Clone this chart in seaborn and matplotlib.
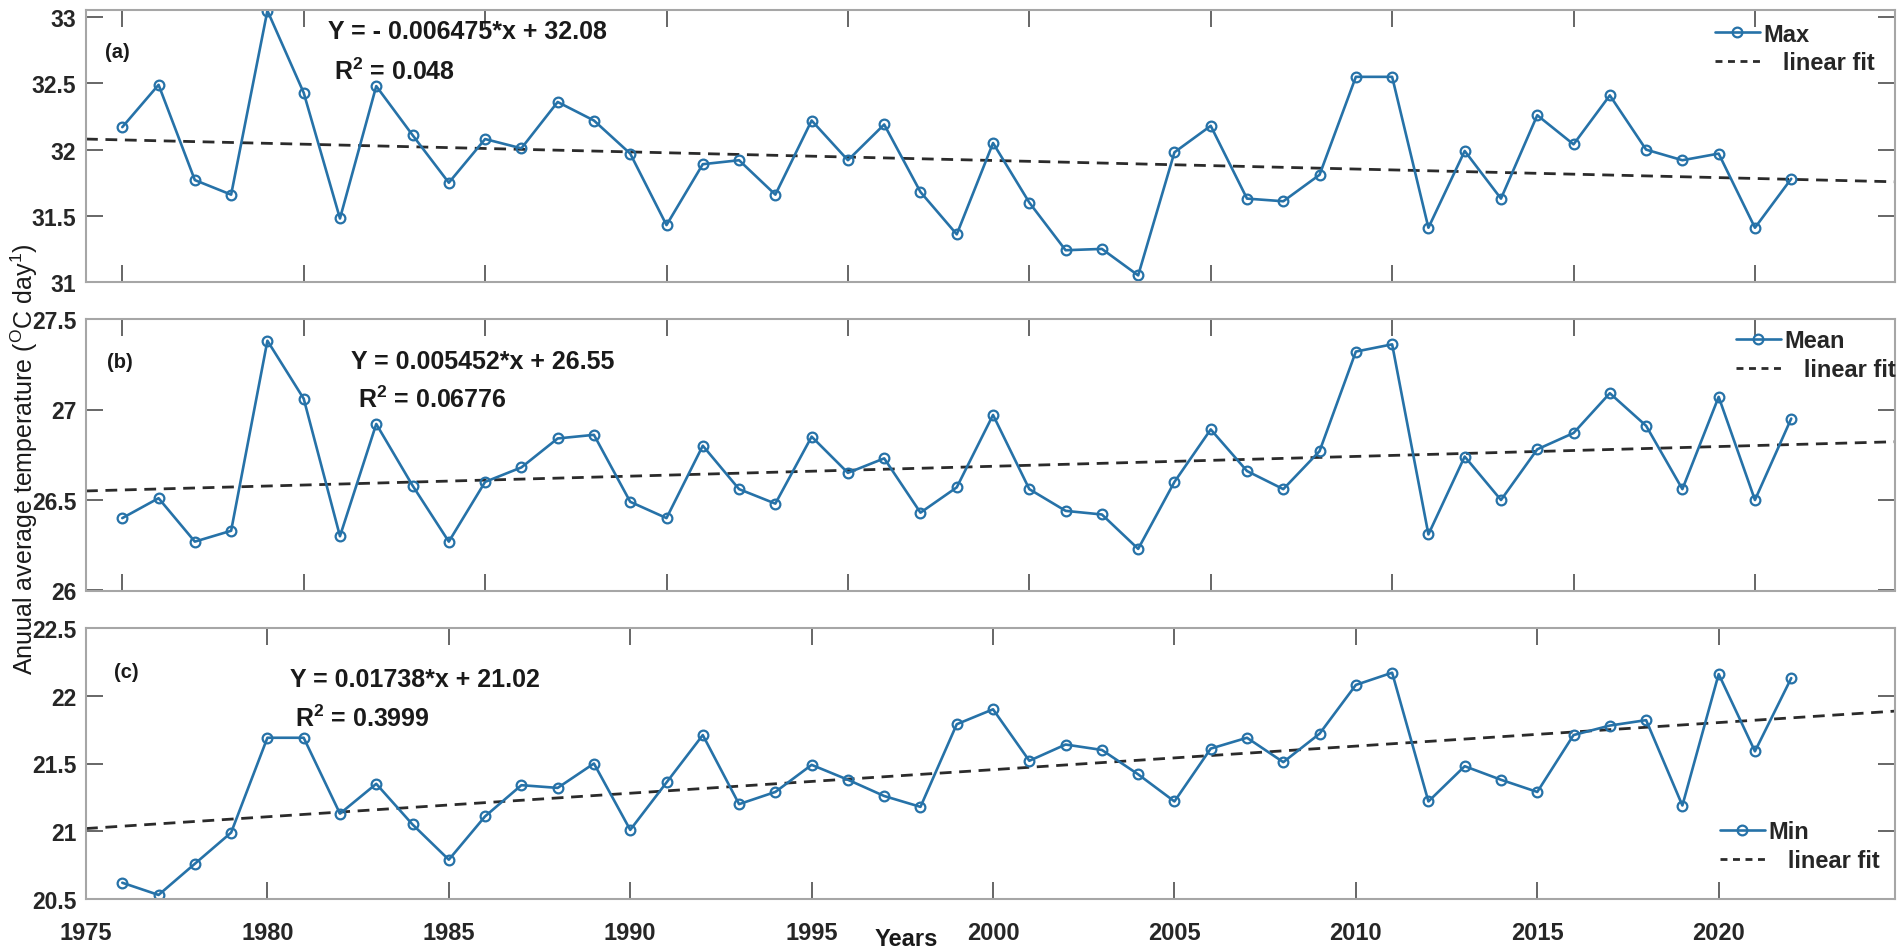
import numpy as np
import pandas as pd
import matplotlib
matplotlib.use('Agg')
import matplotlib.pyplot as plt
from matplotlib import font_manager
from matplotlib.lines import Line2D
import seaborn as sns

# annual values, 1976-2022
years = list(range(1976, 2023))
t_max = [32.17, 32.49, 31.77, 31.66, 33.05, 32.43, 31.48, 32.48, 32.11, 31.75,
         32.08, 32.01, 32.36, 32.22, 31.97, 31.43, 31.89, 31.92, 31.66, 32.22,
         31.92, 32.19, 31.68, 31.36, 32.05, 31.60, 31.24, 31.25, 31.05, 31.98,
         32.18, 31.63, 31.61, 31.81, 32.55, 32.55, 31.41, 31.99, 31.63, 32.26,
         32.04, 32.41, 32.00, 31.92, 31.97, 31.41, 31.78]
t_mean = [26.40, 26.51, 26.27, 26.33, 27.38, 27.06, 26.30, 26.92, 26.58, 26.27,
          26.60, 26.68, 26.84, 26.86, 26.49, 26.40, 26.80, 26.56, 26.48, 26.85,
          26.65, 26.73, 26.43, 26.57, 26.97, 26.56, 26.44, 26.42, 26.23, 26.60,
          26.89, 26.66, 26.56, 26.77, 27.32, 27.36, 26.31, 26.74, 26.50, 26.78,
          26.87, 27.09, 26.91, 26.56, 27.07, 26.50, 26.95]
t_min = [20.62, 20.53, 20.76, 20.99, 21.69, 21.69, 21.13, 21.35, 21.05, 20.79,
         21.11, 21.34, 21.32, 21.50, 21.01, 21.36, 21.71, 21.20, 21.29, 21.49,
         21.38, 21.26, 21.18, 21.79, 21.90, 21.52, 21.64, 21.60, 21.42, 21.22,
         21.61, 21.69, 21.51, 21.72, 22.08, 22.17, 21.22, 21.48, 21.38, 21.29,
         21.71, 21.78, 21.82, 21.19, 22.16, 21.59, 22.13]

# linear fits as printed on the panels (x = years since 1975)
fit_years = [1975, 2025]
max_slope, max_icpt = -0.006475, 32.08
mean_slope, mean_icpt = 0.005452, 26.55
min_slope, min_icpt = 0.01738, 21.02

max_ticks = [31, 31.5, 32, 32.5, 33]
mean_ticks = [26, 26.5, 27, 27.5]
min_ticks = [20.5, 21, 21.5, 22, 22.5]
max_ticklabels = ['31', '31.5', '32', '32.5', '33']
mean_ticklabels = ['26', '26.5', '27', '27.5']
min_ticklabels = ['20.5', '21', '21.5', '22', '22.5']

sns.set_style('ticks')
installed = {f.name for f in font_manager.fontManager.ttflist}
has_narrow = 'Liberation Sans Narrow' in installed
plt.rcParams['font.family'] = ['Liberation Sans', 'DejaVu Sans']
plt.rcParams['mathtext.fontset'] = 'custom'
plt.rcParams['mathtext.rm'] = 'Liberation Sans Narrow' if has_narrow else 'Liberation Sans'
plt.rcParams['mathtext.bf'] = 'Liberation Sans:bold'
plt.rcParams['lines.scale_dashes'] = False

W, H = 1904, 953
blue = '#2672a8'
fit_col = '#2b2b2b'
fig = plt.figure(figsize=(W / 100, H / 100), dpi=100)

def px(x, y):
    return x / W, 1 - y / H

def add_panel(top, bottom):
    return fig.add_axes([86 / W, 1 - bottom / H, (1895 - 86) / W, (bottom - top) / H])

ax_a = add_panel(11, 283)
ax_b = add_panel(320, 591.5)
ax_c = add_panel(629, 900)

panels = [
    (ax_a, t_max, max_slope, max_icpt, (31, 33.055), max_ticks, max_ticklabels, 1976),
    (ax_b, t_mean, mean_slope, mean_icpt, (26, 27.5), mean_ticks, mean_ticklabels, 1976),
    (ax_c, t_min, min_slope, min_icpt, (20.5, 22.5), min_ticks, min_ticklabels, 1975),
]

for ax, vals, slope, icpt, ylim, yt, ytl, xt0 in panels:
    df = pd.DataFrame({'year': years, 'temp': vals})
    fit = pd.DataFrame({'year': fit_years,
                        'temp': [slope * (y - 1975) + icpt for y in fit_years]})
    sns.lineplot(data=fit, x='year', y='temp', ax=ax, color=fit_col, lw=2.0,
                 linestyle=(0, (8.5, 5.5)))
    sns.lineplot(data=df, x='year', y='temp', ax=ax, color=blue, lw=1.9,
                 marker='o', markersize=7, markerfacecolor='none',
                 markeredgecolor=blue, markeredgewidth=1.6)
    ax.set_xlim(1975, 2024.86)
    ax.set_ylim(*ylim)
    ax.set_yticks(yt)
    ax.set_yticklabels(ytl, fontweight='bold', fontsize=16.5)
    ax.set_xticks(list(range(xt0, 2025, 5)))
    ax.set_xlabel('')
    ax.set_ylabel('')
    for s in ax.spines.values():
        s.set_visible(True)
        s.set_color('#a6a6a6')
        s.set_linewidth(1.5)
    ax.tick_params(direction='in', length=12, width=1.2, color='#4d4d4d',
                   top=True, right=True, labelcolor='#262626')
    ax.tick_params(axis='y', pad=7)

ax_a.tick_params(axis='x', labelbottom=False)
ax_b.tick_params(axis='x', labelbottom=False)
ax_c.set_xticklabels([str(t) for t in range(1975, 2025, 5)], fontweight='bold', fontsize=17)
ax_c.tick_params(axis='x', pad=16)

# legends
leg_pos = [(ax_a, 'Max', 1715, 23.5), (ax_b, 'Mean', 1736, 330), (ax_c, 'Min', 1720, 821.5)]
for ax, name, lx, ly in leg_pos:
    h1 = Line2D([], [], color=blue, lw=1.9, marker='o', markersize=7,
                markerfacecolor='none', markeredgecolor=blue, markeredgewidth=1.6)
    h2 = Line2D([], [], color=fit_col, lw=2.0, linestyle=(0, (5, 4)))
    ax.legend([h1, h2], [name, '   linear fit'], loc='upper left',
              bbox_to_anchor=px(lx, ly), bbox_transform=fig.transFigure,
              frameon=False, borderpad=0, borderaxespad=0, handlelength=1.9,
              handletextpad=0.15, labelspacing=0.25,
              prop={'family': 'Liberation Sans', 'weight': 'bold', 'size': 17})

# equations and panel letters
bold = dict(fontweight='bold', fontsize=18, va='center', ha='left', color='#1a1a1a')
fig.text(*px(328, 32), 'Y = - 0.006475*x + 32.08', **bold)
fig.text(*px(334, 72), r'R$^{\mathbf{2}}$ = 0.048', **bold)
fig.text(*px(351, 362.5), 'Y = 0.005452*x + 26.55', **bold)
fig.text(*px(358, 400), r'R$^{\mathbf{2}}$ = 0.06776', **bold)
fig.text(*px(290, 680), 'Y = 0.01738*x + 21.02', **bold)
fig.text(*px(295, 718.7), r'R$^{\mathbf{2}}$ = 0.3999', **bold)

small = dict(fontweight='bold', fontsize=14.5, va='center', ha='left', color='#1a1a1a')
fig.text(*px(105, 53), '(a)', **small)
fig.text(*px(107, 362.5), '(b)', **small)
fig.text(*px(114, 672), '(c)', **small)

if has_narrow:
    ylab_font = dict(family='Liberation Sans Narrow', fontsize=22)
else:
    ylab_font = dict(family='Liberation Sans', fontsize=18)
fig.text(*px(24, 459), r'Anuual average temperature ($^{\mathrm{O}}$C day$^{1}$)',
         rotation=90, va='center', ha='center', color='#1a1a1a', **ylab_font)
fig.text(*px(906, 939.5), 'Years', fontweight='bold', fontsize=17,
         va='center', ha='center', color='#1a1a1a')

fig.savefig('out.png', dpi=100)
